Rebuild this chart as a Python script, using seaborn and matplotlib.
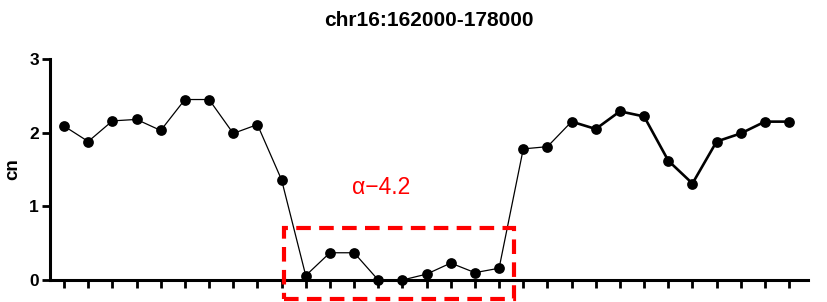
import matplotlib
matplotlib.use("Agg")
import matplotlib.pyplot as plt
import matplotlib.patches as mpatches
import seaborn as sns
import pandas as pd
import numpy as np

# ---- data ----
positions = list(range(31))
cn_values = [2.09, 1.88, 2.16, 2.18, 2.03, 2.45, 2.45, 1.99, 2.11, 1.36,
             0.06, 0.37, 0.37, 0.00, 0.00, 0.08, 0.23, 0.10, 0.16, 1.78,
             1.81, 2.15, 2.05, 2.29, 2.22, 1.62, 1.31, 1.88, 1.99, 2.15, 2.15]
title = "chr16:162000-178000"
ylabel = "cn"
yticks = [0, 1, 2, 3]
annotation = "α\u22124.2"
box_x = [9.1, 18.6]
box_y = [-0.26, 0.705]

sns.set_style("ticks")
plt.rcParams['font.family'] = ['Liberation Sans', 'DejaVu Sans']
plt.rcParams['text.color'] = 'black'
plt.rcParams['axes.labelcolor'] = 'black'
plt.rcParams['xtick.color'] = 'black'
plt.rcParams['ytick.color'] = 'black'

df = pd.DataFrame({"pos": positions, "cn": cn_values})
thin = df.iloc[:22]
thick = df.iloc[21:]

fig = plt.figure(figsize=(8.27, 3.02), dpi=100)
ax = fig.add_axes([0.0605, 0.0728, 0.9165, 0.7318])

sns.lineplot(data=thin, x="pos", y="cn", color="black", linewidth=0.9, ax=ax)
sns.lineplot(data=thick, x="pos", y="cn", color="black", linewidth=1.9, ax=ax)
sns.scatterplot(data=df, x="pos", y="cn", color="black", s=60, edgecolor="black",
                linewidth=0, ax=ax, zorder=5, clip_on=False)

ax.set_xlim(-0.58, 30.78)
ax.set_ylim(0, 3)
ax.set_xticks(positions)
ax.set_xticklabels([])
ax.set_yticks(yticks)
ax.set_yticklabels([str(t) for t in yticks], fontsize=12.5, fontweight="bold")
ax.set_xlabel("")
ax.set_ylabel(ylabel, fontsize=13.5, fontweight="bold", labelpad=6)
ax.set_title(title, fontsize=15, fontweight="bold", pad=24)

for s in ["top", "right"]:
    ax.spines[s].set_visible(False)
for s in ["left", "bottom"]:
    ax.spines[s].set_linewidth(2.2)
    ax.spines[s].set_color("black")
ax.tick_params(axis="x", length=6, width=2, color="black", direction="out")
ax.tick_params(axis="y", length=6, width=2, color="black", direction="out", pad=2)

rect = mpatches.Rectangle((box_x[0], box_y[0]), box_x[1] - box_x[0], box_y[1] - box_y[0],
                          fill=False, edgecolor="#ff0000", linewidth=3,
                          linestyle=(0, (3.5, 2)), clip_on=False, zorder=6)
ax.add_patch(rect)
ax.text(11.9, 1.26, annotation, color="#ff0000", fontsize=16.5, va="center", ha="left")

fig.savefig("out.png", dpi=100)
